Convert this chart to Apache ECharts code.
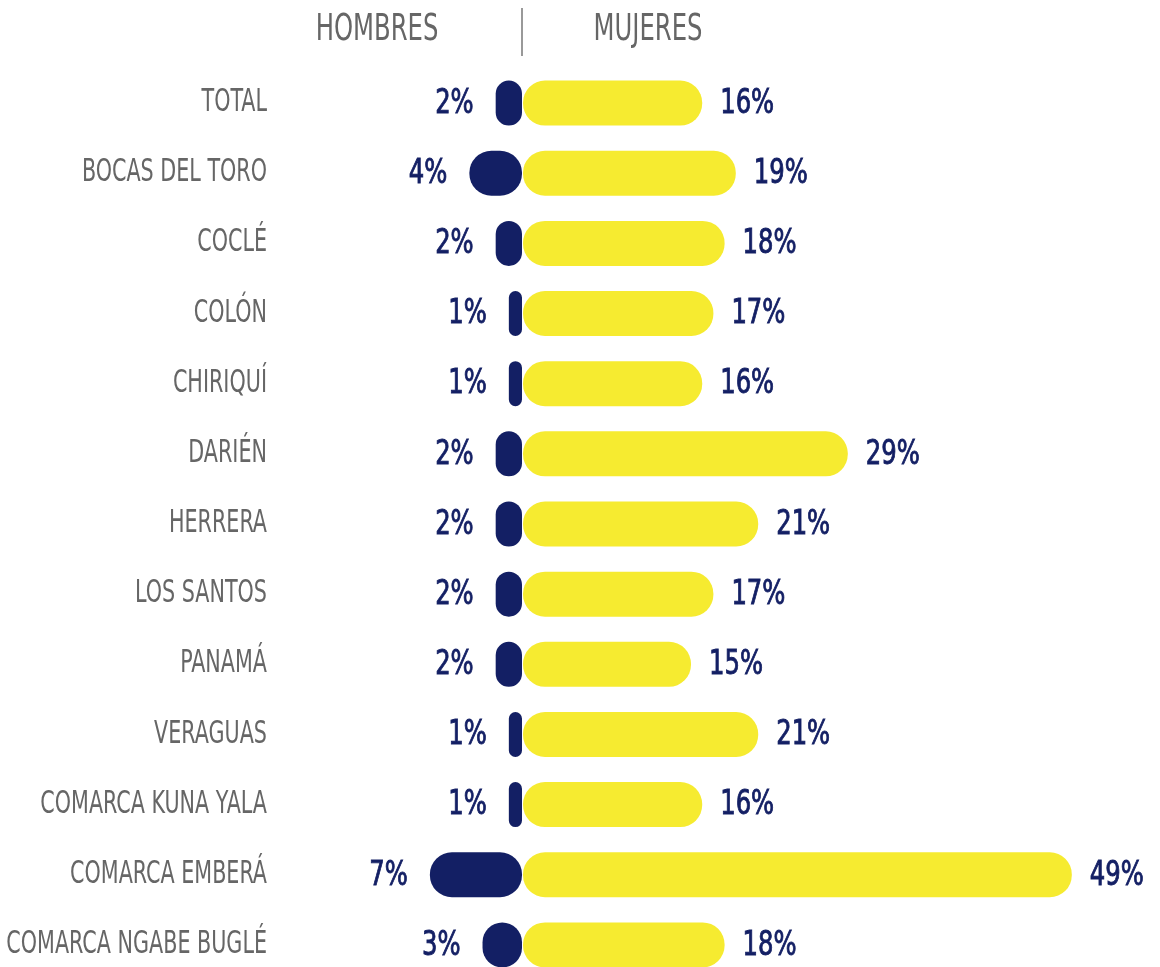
<!DOCTYPE html>
<html>
<head>
<meta charset="utf-8">
<script src="https://cdn.jsdelivr.net/npm/echarts@6/dist/echarts.min.js"></script>
<style>
	html, body { margin: 0; padding: 0; background: #fff; }
	#chart { width: 1160px; height: 967px; }
</style>
</head>
<body>
<div id="chart"></div>
<script>
// 地区
const categories = ['TOTAL', 'BOCAS DEL TORO', 'COCLÉ', 'COLÓN', 'CHIRIQUÍ', 'DARIÉN', 'HERRERA',
	'LOS SANTOS', 'PANAMÁ', 'VERAGUAS', 'COMARCA KUNA YALA', 'COMARCA EMBERÁ', 'COMARCA NGABE BUGLÉ'];
const hombres = [2, 4, 2, 1, 1, 2, 2, 2, 2, 1, 1, 7, 3];
const mujeres = [16, 19, 18, 17, 16, 29, 21, 17, 15, 21, 16, 49, 18];
const headers = ['HOMBRES', 'MUJERES'];

const FONT = "'DejaVu Sans Condensed', 'Liberation Sans Narrow', 'Roboto', sans-serif";
const NAVY = '#131f64';
const YELLOW = '#f6eb30';
const GREY = '#666';

const chart = echarts.init(document.getElementById('chart'));

// 字体偏宽，用纵向拉伸模拟窄体字
function tallText(x, y, text, align, size, color, sy, stroke) {
	return {
		type: 'text', x: x, y: y, scaleY: sy, silent: true,
		style: { x: 0, y: 0, text: text, align: align, verticalAlign: 'middle',
			fontFamily: FONT, fontSize: size, fill: color,
			stroke: stroke ? color : null, lineWidth: stroke || 0 }
	};
}

// 数值标签，放在柱子外端
function valueLabel(side) {
	return function(params, api) {
		const p = api.coord([api.value(0), api.value(1)]);
		const x = side === 'left' ? p[0] - 22 : p[0] + 18;
		return tallText(x, p[1] + 1, api.value(0) + '%', side === 'left' ? 'right' : 'left', 27, NAVY, 1.25, 0.7);
	};
}

chart.setOption({
	animation: false,
	graphic: [
		{ type: 'line', shape: { x1: 522, y1: 8, x2: 522, y2: 56 }, style: { stroke: '#777', lineWidth: 1.5 } },
		tallText(377, 31, headers[0], 'center', 27, GREY, 1.35),
		tallText(648, 31, headers[1], 'center', 27, GREY, 1.35)
	],
	// v6 默认会把标签挤进容器，这里关掉
	grid: [
		{ left: 272, width: 250, top: 68, height: 912, outerBoundsMode: 'none' },
		{ left: 523, width: 560, top: 68, height: 912, outerBoundsMode: 'none' }
	],
	xAxis: [
		{ gridIndex: 0, type: 'value', min: 0, max: 19, inverse: true, show: false },
		{ gridIndex: 1, type: 'value', min: 0, max: 50, show: false }
	],
	yAxis: [
		{ gridIndex: 0, type: 'category', data: categories, inverse: true, show: false },
		{ gridIndex: 1, type: 'category', data: categories, inverse: true, show: false }
	],
	series: [
		{
			name: headers[0], type: 'bar', xAxisIndex: 0, yAxisIndex: 0,
			data: hombres, barWidth: 45,
			itemStyle: { color: NAVY, borderRadius: 22 }
		},
		{
			name: headers[1], type: 'bar', xAxisIndex: 1, yAxisIndex: 1,
			data: mujeres, barWidth: 45,
			itemStyle: { color: YELLOW, borderRadius: 22 }
		},
		{
			// 地区名
			type: 'custom', xAxisIndex: 0, yAxisIndex: 0, silent: true,
			data: categories.map(c => [0, c]),
			renderItem: function(params, api) {
				const p = api.coord([0, api.value(1)]);
				return tallText(params.coordSys.x - 5, p[1], categories[params.dataIndex], 'right', 23, GREY, 1.35);
			}
		},
		{
			type: 'custom', xAxisIndex: 0, yAxisIndex: 0, silent: true,
			data: hombres.map((v, i) => [v, categories[i]]),
			renderItem: valueLabel('left')
		},
		{
			type: 'custom', xAxisIndex: 1, yAxisIndex: 1, silent: true,
			data: mujeres.map((v, i) => [v, categories[i]]),
			renderItem: valueLabel('right')
		}
	]
});
</script>
</body>
</html>
